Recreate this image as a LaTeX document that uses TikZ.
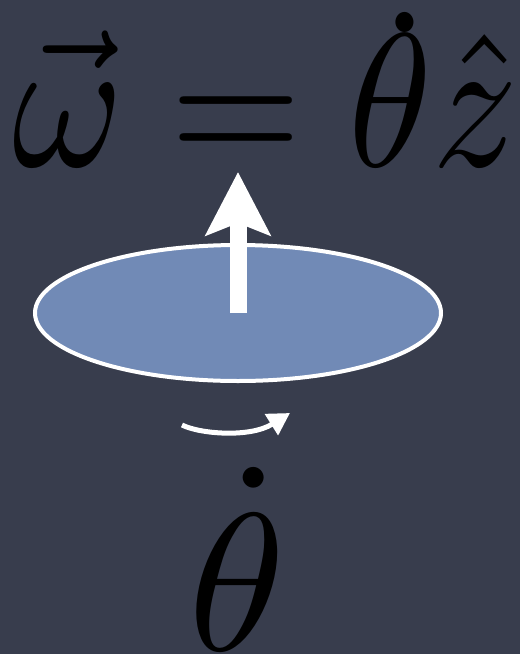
\documentclass[tikz,border=0pt]{standalone}
\usepackage{graphicx}
\usetikzlibrary{arrows.meta,shapes.geometric}
\definecolor{board}{RGB}{56,61,77}
\definecolor{disc}{RGB}{113,138,182}
\begin{document}
\begin{tikzpicture}[x=1pt,y=-1pt,
  bigmath/.style={inner sep=0pt,text=black},
  chalk/.style={white,line cap=butt}]
\fill[board] (0,0) rectangle (520,654);
\useasboundingbox (0,0) rectangle (520,654);
\node[bigmath,anchor=base west] (eq) at (12,166) {\scalebox{16.9}[19]{$\vec{\omega} = \skew{3}{\dot}{\raisebox{0pt}[5.7pt]{$\theta$}}\hat{z}$}};
\node[draw=white,line width=4pt,fill=disc,ellipse,minimum width=406pt,minimum height=136pt,inner sep=0pt] (disc) at (238,313) {};
\coordinate (tip) at (238,172);
\draw[chalk,line width=17pt,-{Stealth[length=63pt,width=64pt,inset=12pt]}] (disc.center) -- (tip);
\coordinate (rs) at (182,425);
\coordinate (re) at (290,413);
\draw[chalk,line width=5pt,-{Triangle[length=22pt,width=24pt]}] (rs) .. controls (200,434) and (250,438) .. (re);
\node[bigmath,anchor=base] (rate) at (237,650) {\scalebox{19.6}{$\dot{\theta}$}};
\end{tikzpicture}
\end{document}
